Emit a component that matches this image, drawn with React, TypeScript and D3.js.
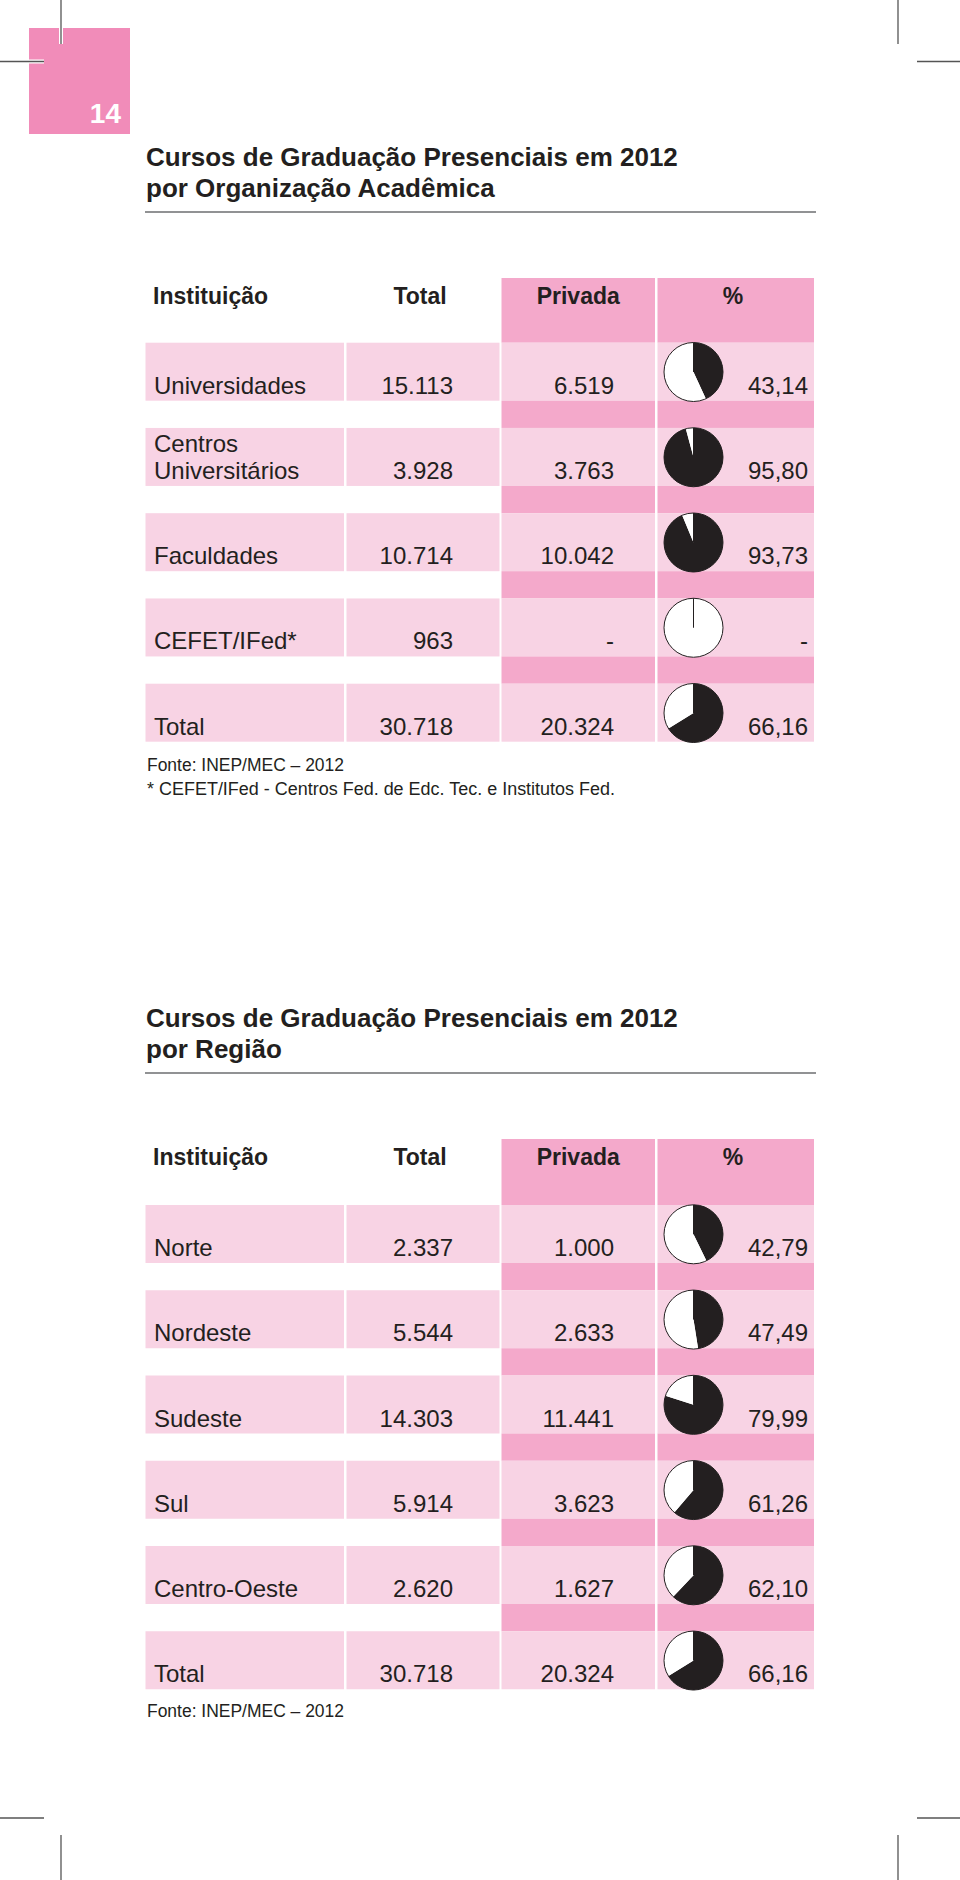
import React from "react";
import * as d3 from "d3";

// ---- Data ----
const pageNumber = "14";

const title1 = ["Cursos de Graduação Presenciais em 2012", "por Organização Acadêmica"];
const title2 = ["Cursos de Graduação Presenciais em 2012", "por Região"];

const headers = ["Instituição", "Total", "Privada", "%"];

const orgLabels = [["Universidades"], ["Centros", "Universitários"], ["Faculdades"], ["CEFET/IFed*"], ["Total"]];
const orgTotal = ["15.113", "3.928", "10.714", "963", "30.718"];
const orgPrivada = ["6.519", "3.763", "10.042", "-", "20.324"];
const orgPctLabel = ["43,14", "95,80", "93,73", "-", "66,16"];
const orgPct = [43.14, 95.8, 93.73, 0, 66.16];

const regLabels = [["Norte"], ["Nordeste"], ["Sudeste"], ["Sul"], ["Centro-Oeste"], ["Total"]];
const regTotal = ["2.337", "5.544", "14.303", "5.914", "2.620", "30.718"];
const regPrivada = ["1.000", "2.633", "11.441", "3.623", "1.627", "20.324"];
const regPctLabel = ["42,79", "47,49", "79,99", "61,26", "62,10", "66,16"];
const regPct = [42.79, 47.49, 79.99, 61.26, 62.1, 66.16];

const source1 = ["Fonte: INEP/MEC – 2012", "* CEFET/IFed - Centros Fed. de Edc. Tec. e Institutos Fed."];
const source2 = ["Fonte: INEP/MEC – 2012"];

// ---- Style ----
const FONT = "'Liberation Sans', Arial, Helvetica, sans-serif";
const INK = "#231f20";
const PINK_SQ = "#f18cb9";
const PINK_DARK = "#f4a9cb";
const PINK_LIGHT = "#f8d3e4";

const cols = [
  [145.5, 344],
  [346.5, 499.5],
  [501.5, 655],
  [657.5, 814],
];

const sourceWidths = [197, 468];

const pieGen = d3.pie<number>().sort(null).value((d) => d);
const R = 29.5;
const arcGen = d3.arc<d3.PieArcDatum<number>>().innerRadius(0).outerRadius(R);

function Pie({ cx, cy, pct }: { cx: number; cy: number; pct: number }) {
  const arcs = pieGen([pct, 100 - pct]);
  return (
    <g transform={`translate(${cx},${cy})`}>
      <circle r={R} fill="#ffffff" />
      {arcs.map((a, i) => (
        <path key={i} d={arcGen(a) || ""} fill={i === 0 ? INK : "#ffffff"} />
      ))}
      <line x1={0} y1={0} x2={0} y2={-R} stroke={INK} strokeWidth={1} />
      <circle r={R} fill="none" stroke={INK} strokeWidth={1} />
    </g>
  );
}

function Section({
  offset,
  title,
  labels,
  total,
  privada,
  pctLabel,
  pct,
  source,
  rowTop0,
  headerTop,
  sourceBase,
}: {
  offset: number;
  title: string[];
  labels: string[][];
  total: string[];
  privada: string[];
  pctLabel: string[];
  pct: number[];
  source: string[];
  rowTop0: number;
  headerTop: number;
  sourceBase: number;
}) {
  const n = labels.length;
  const rowH = 58;
  const y = d3.scaleLinear().domain([0, 1]).range([rowTop0, rowTop0 + 85.25]);
  return (
    <g>
      {/* Title */}
      {title.map((t, i) => (
        <text key={i} x={146} y={offset + 166 + i * 30.5} fontFamily={FONT} fontWeight="bold" fontSize={26} fill={INK}>
          {t}
        </text>
      ))}
      <line x1={145} x2={816} y1={offset + 212} y2={offset + 212} stroke="#6d6e70" strokeWidth={1.5} />

      {/* Header */}
      <rect x={cols[2][0]} y={headerTop} width={cols[2][1] - cols[2][0]} height={rowTop0 - headerTop} fill={PINK_DARK} />
      <rect x={cols[3][0]} y={headerTop} width={cols[3][1] - cols[3][0]} height={rowTop0 - headerTop} fill={PINK_DARK} />
      <text x={153} y={headerTop + 26} fontFamily={FONT} fontWeight="bold" fontSize={23} fill={INK}>
        {headers[0]}
      </text>
      <text x={420} y={headerTop + 26} textAnchor="middle" fontFamily={FONT} fontWeight="bold" fontSize={23} fill={INK}>
        {headers[1]}
      </text>
      <text x={(cols[2][0] + cols[2][1]) / 2} y={headerTop + 26} textAnchor="middle" fontFamily={FONT} fontWeight="bold" fontSize={23} fill={INK}>
        {headers[2]}
      </text>
      <text x={733} y={headerTop + 26} textAnchor="middle" fontFamily={FONT} fontWeight="bold" fontSize={23} fill={INK}>
        {headers[3]}
      </text>

      {/* Rows */}
      {labels.map((lab, i) => {
        const top = y(i);
        const bottom = top + rowH;
        const base = bottom - 7;
        return (
          <g key={i}>
            {cols.map((c, j) => (
              <rect key={j} x={c[0]} y={top} width={c[1] - c[0]} height={rowH} fill={PINK_LIGHT} />
            ))}
            {i < n - 1 &&
              [cols[2], cols[3]].map((c, j) => (
                <rect key={"g" + j} x={c[0]} y={bottom} width={c[1] - c[0]} height={y(i + 1) - bottom} fill={PINK_DARK} />
              ))}
            {lab.map((l, k) => (
              <text key={k} x={154} y={base - (lab.length - 1 - k) * 26.7} fontFamily={FONT} fontSize={24} fill={INK}>
                {l}
              </text>
            ))}
            <text x={453} y={base} textAnchor="end" fontFamily={FONT} fontSize={24} fill={INK}>
              {total[i]}
            </text>
            <text x={614} y={base} textAnchor="end" fontFamily={FONT} fontSize={24} fill={INK}>
              {privada[i]}
            </text>
            <text x={808} y={base} textAnchor="end" fontFamily={FONT} fontSize={24} fill={INK}>
              {pctLabel[i]}
            </text>
            <Pie cx={693.5} cy={top + 29.3} pct={pct[i]} />
          </g>
        );
      })}

      {source.map((s, i) => (
        <text
          key={i}
          x={147}
          y={sourceBase + i * 24}
          fontFamily={FONT}
          fontSize={17.5}
          fill={INK}
          textLength={sourceWidths[i]}
          lengthAdjust="spacingAndGlyphs"
        >
          {s}
        </text>
      ))}
    </g>
  );
}

function CropMark({ x1, y1, x2, y2 }: { x1: number; y1: number; x2: number; y2: number }) {
  return (
    <g>
      <line x1={x1} y1={y1} x2={x2} y2={y2} stroke="#ffffff" strokeWidth={4} />
      <line x1={x1} y1={y1} x2={x2} y2={y2} stroke="#555555" strokeWidth={1.3} />
    </g>
  );
}

export default function App() {
  return (
    <svg width={960} height={1880} style={{ position: "absolute", left: 0, top: 0, background: "#ffffff" }}>
      <rect x={0} y={0} width={960} height={1880} fill="#ffffff" />
      <rect x={29} y={28} width={101} height={106} fill={PINK_SQ} />
      <text x={121} y={123} textAnchor="end" fontFamily={FONT} fontWeight="bold" fontSize={28} fill="#ffffff">
        {pageNumber}
      </text>

      <CropMark x1={61} y1={0} x2={61} y2={44} />
      <CropMark x1={0} y1={61.5} x2={44} y2={61.5} />
      <CropMark x1={898} y1={0} x2={898} y2={44} />
      <CropMark x1={917} y1={61.5} x2={960} y2={61.5} />
      <CropMark x1={0} y1={1818} x2={44} y2={1818} />
      <CropMark x1={61} y1={1835} x2={61} y2={1880} />
      <CropMark x1={917} y1={1818} x2={960} y2={1818} />
      <CropMark x1={898} y1={1835} x2={898} y2={1880} />

      <Section
        offset={0}
        title={title1}
        labels={orgLabels}
        total={orgTotal}
        privada={orgPrivada}
        pctLabel={orgPctLabel}
        pct={orgPct}
        source={source1}
        rowTop0={342.7}
        headerTop={278}
        sourceBase={771}
      />
      <Section
        offset={861}
        title={title2}
        labels={regLabels}
        total={regTotal}
        privada={regPrivada}
        pctLabel={regPctLabel}
        pct={regPct}
        source={source2}
        rowTop0={1205}
        headerTop={1139}
        sourceBase={1717}
      />
    </svg>
  );
}
